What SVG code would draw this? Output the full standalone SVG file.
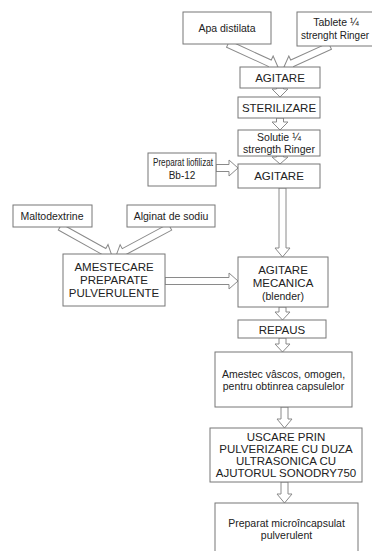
<svg xmlns="http://www.w3.org/2000/svg" width="372" height="551" viewBox="0 0 372 551">
<style>
.box{fill:#fff;stroke:#777;stroke-width:1}
.arr{fill:#fff;stroke:#8a8a8a;stroke-width:1;stroke-linejoin:miter}
text{font-family:"Liberation Sans",Arial,sans-serif;font-size:10.5px;fill:#222;text-anchor:middle}
.cap{font-size:11.5px}
.sm{font-size:10px}
</style>
<rect width="372" height="551" fill="#fff"/>
<g id="connectors">
<polygon class="arr" transform="translate(228,44) rotate(24.7)" points="0,-3.5 46,-3.5 46,-8 55,0 46,8 46,3.5 0,3.5"/>
<polygon class="arr" transform="translate(330,46) rotate(155.5)" points="0,-3.5 41.6,-3.5 41.6,-8 50.6,0 41.6,8 41.6,3.5 0,3.5"/>
<polygon class="arr" points="276.5,88 283.5,88 283.5,89 288,89 280,97 272,89 276.5,89"/>
<polygon class="arr" points="276.5,118 283.5,118 283.5,122 288,122 280,130 272,122 276.5,122"/>
<polygon class="arr" points="276.5,156 283.5,156 283.5,157 288,157 280,164 272,157 276.5,157"/>
<polygon class="arr" points="216,164.5 229,164.5 229,160 238,168 229,176 229,171.5 216,171.5"/>
<polygon class="arr" points="279,188 286,188 286,248 290,248 282.5,257 275,248 279,248"/>
<polygon class="arr" transform="translate(60,227) rotate(29.1)" points="0,-3.5 50.5,-3.5 50.5,-8 59.5,0 50.5,8 50.5,3.5 0,3.5"/>
<polygon class="arr" transform="translate(170,227) rotate(151.8)" points="0,-3.5 52.3,-3.5 52.3,-8 61.3,0 52.3,8 52.3,3.5 0,3.5"/>
<polygon class="arr" points="165,277.5 229,277.5 229,273 238,281 229,289 229,284.5 165,284.5"/>
<polygon class="arr" points="279,307 286,307 286,312 290,312 282.5,320 275,312 279,312"/>
<polygon class="arr" points="279,338 286,338 286,344 290,344 282.5,352 275,344 279,344"/>
<polygon class="arr" points="281,407 288,407 288,419 292,419 284.5,428 277,419 281,419"/>
<polygon class="arr" points="281,482 288,482 288,494 292,494 284.5,503 277,494 281,494"/>
</g>
<g id="apa"><rect class="box" x="183" y="12" width="88" height="32"/><text x="227" y="31.5">Apa distilata</text></g>
<g id="tablete"><rect class="box" x="297" y="12" width="80" height="34"/><text x="336" y="26">Tablete ¼</text><text class="sm" x="335" y="39" textLength="68" lengthAdjust="spacingAndGlyphs">strenght Ringer</text></g>
<g id="agitare1"><rect class="box" x="240" y="67" width="80" height="21"/><text class="cap" x="280" y="81.5">AGITARE</text></g>
<g id="sterilizare"><rect class="box" x="238" y="97" width="82" height="21"/><text class="cap" x="279" y="111.5">STERILIZARE</text></g>
<g id="solutie"><rect class="box" x="238" y="130" width="82" height="26"/><text x="279" y="141">Solutie ¼</text><text x="279" y="153">strength Ringer</text></g>
<g id="agitare2"><rect class="box" x="238" y="164" width="82" height="24"/><text class="cap" x="279" y="180">AGITARE</text></g>
<g id="liofilizat"><rect class="box" x="148" y="153" width="68" height="33"/><text class="sm" x="183" y="166" textLength="60" lengthAdjust="spacingAndGlyphs">Preparat liofilizat</text><text class="sm" x="182" y="179">Bb-12</text></g>
<g id="maltodextrine"><rect class="box" x="13" y="205" width="79" height="22"/><text x="52" y="219.5">Maltodextrine</text></g>
<g id="alginat"><rect class="box" x="127" y="205" width="88" height="22"/><text x="171" y="219.5">Alginat de sodiu</text></g>
<g id="amestecare"><rect class="box" x="63" y="254" width="102" height="52"/><text class="cap" x="114" y="271">AMESTECARE</text><text class="cap" x="114" y="284">PREPARATE</text><text class="cap" x="114" y="297">PULVERULENTE</text></g>
<g id="mecanica"><rect class="box" x="238" y="257" width="90" height="50"/><text class="cap" x="283" y="274">AGITARE</text><text class="cap" x="283" y="287">MECANICA</text><text x="283" y="300">(blender)</text></g>
<g id="repaus"><rect class="box" x="238" y="320" width="88" height="18"/><text class="cap" x="282" y="333.5">REPAUS</text></g>
<g id="amestec"><rect class="box" x="215" y="352" width="137" height="55"/><text x="283.5" y="378">Amestec vâscos, omogen,</text><text x="283.5" y="390">pentru obtinrea capsulelor</text></g>
<g id="uscare"><rect class="box" x="210" y="428" width="152" height="54"/><text class="cap" x="286" y="441">USCARE PRIN</text><text class="cap" x="286" y="453">PULVERIZARE CU DUZA</text><text class="cap" x="286" y="465">ULTRASONICA CU</text><text class="cap" x="286" y="477">AJUTORUL SONODRY750</text></g>
<g id="produs"><rect class="box" x="215" y="503" width="143" height="52"/><text x="286.5" y="527">Preparat microîncapsulat</text><text x="286.5" y="539">pulverulent</text></g>
</svg>
